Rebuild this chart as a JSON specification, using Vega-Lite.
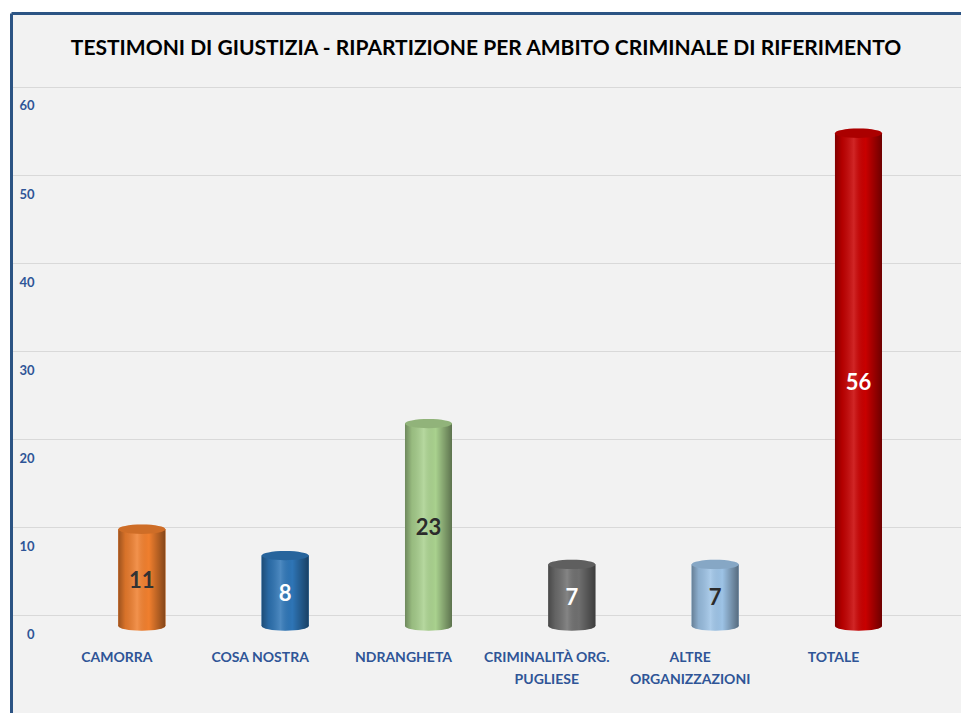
{
  "$schema": "https://vega.github.io/schema/vega-lite/v6.json",
  "width": 950,
  "height": 700,
  "autosize": {"type": "none"},
  "padding": {"left": 11, "top": 13, "right": 0, "bottom": 0},
  "background": "#ffffff",
  "config": {"view": {"fill": "#f2f2f2", "stroke": null}, "font": "Lato"},
  "title": {
    "text": "TESTIMONI DI GIUSTIZIA - RIPARTIZIONE PER AMBITO CRIMINALE DI RIFERIMENTO",
    "font": "Lato",
    "fontSize": 21,
    "fontWeight": "bold",
    "color": "#000000",
    "anchor": "middle",
    "frame": "group",
    "offset": -63,
    "baseline": "alphabetic"
  },
  "data": {
    "values": [
      {"category": "CAMORRA", "value": 11},
      {"category": "COSA NOSTRA", "value": 8},
      {"category": "NDRANGHETA", "value": 23},
      {"category": "CRIMINALITÀ ORG. PUGLIESE", "value": 7},
      {"category": "ALTRE ORGANIZZAZIONI", "value": 7},
      {"category": "TOTALE", "value": 56}
    ]
  },
  "resolve": {"scale": {"y": "independent", "color": "independent"}, "axis": {"x": "independent"}},
  "layer": [
    {
      "encoding": {
        "x": {
          "field": "category", "type": "nominal", "sort": null,
          "scale": {"paddingInner": 0.672, "paddingOuter": 0.65, "align": 0.576},
          "axis": {
            "orient": "bottom", "title": null, "domain": false, "ticks": false, "grid": false,
            "labelAngle": 0, "labelPadding": -63, "labelOffset": -25,
            "labelFont": "Lato", "labelFontSize": 14, "labelFontWeight": "bold",
            "labelColor": "#2f5597", "labelLineHeight": 22,
            "labelExpr": "datum.value == 'CRIMINALITÀ ORG. PUGLIESE' ? ['CRIMINALITÀ ORG.', 'PUGLIESE'] : datum.value == 'ALTRE ORGANIZZAZIONI' ? ['ALTRE', 'ORGANIZZAZIONI'] : datum.label"
          }
        },
        "y": {
          "field": "value", "type": "quantitative",
          "scale": {"domain": [-11.136, 68.409], "nice": false, "zero": false},
          "axis": {
            "title": null, "values": [0, 10, 20, 30, 40, 50, 60], "grid": true, "gridColor": "#d9d9d9",
            "ticks": false, "domain": true, "domainColor": "#2c5484", "domainWidth": 3,
            "labelPadding": -23, "labelOffset": 19, "labelFont": "Lato", "labelFontSize": 13,
            "labelFontWeight": "bold", "labelColor": "#2f5597"
          }
        },
        "color": {
          "field": "category", "type": "nominal", "sort": null, "legend": null,
          "scale": {
            "domain": ["CAMORRA", "COSA NOSTRA", "NDRANGHETA", "CRIMINALITÀ ORG. PUGLIESE", "ALTRE ORGANIZZAZIONI", "TOTALE"],
            "range": ["#f07f2e", "#2e75b6", "#a9d18e", "#6f6f6f", "#9dc3e6", "#c80000"]
          }
        }
      },
      "layer": [
        {
          "mark": {"type": "bar", "yOffset": 11}
        },
        {
          "mark": {"type": "point", "shape": "M-1,0A1,0.2,0,1,1,1,0A1,0.2,0,1,1,-1,0Z", "size": 2209, "filled": true, "opacity": 1, "strokeWidth": 0, "yOffset": 11},
          "encoding": {"y": {"datum": 0, "type": "quantitative"}}
        },
        {
          "mark": {"type": "point", "shape": "M-1,0A1,0.2,0,1,1,1,0A1,0.2,0,1,1,-1,0Z", "size": 2209, "filled": true, "opacity": 1, "strokeWidth": 0, "yOffset": 11},
          "encoding": {
            "y": {"datum": 0, "type": "quantitative"},
            "color": {"value": {"gradient": "linear", "x1": 0, "x2": 1, "y1": 0, "y2": 0, "stops": [
              {"offset": 0, "color": "rgba(0,0,0,0.35)"},
              {"offset": 0.15, "color": "rgba(0,0,0,0.1)"},
              {"offset": 0.4, "color": "rgba(255,255,255,0.15)"},
              {"offset": 0.65, "color": "rgba(0,0,0,0)"},
              {"offset": 1, "color": "rgba(0,0,0,0.45)"}
            ]}}
          }
        },
        {
          "mark": {"type": "bar", "yOffset": 11}
        },
        {
          "mark": {"type": "bar", "yOffset": 11},
          "encoding": {
            "color": {"value": {"gradient": "linear", "x1": 0, "x2": 1, "y1": 0, "y2": 0, "stops": [
              {"offset": 0, "color": "rgba(0,0,0,0.35)"},
              {"offset": 0.15, "color": "rgba(0,0,0,0.1)"},
              {"offset": 0.4, "color": "rgba(255,255,255,0.15)"},
              {"offset": 0.65, "color": "rgba(0,0,0,0)"},
              {"offset": 1, "color": "rgba(0,0,0,0.45)"}
            ]}}
          }
        },
        {
          "mark": {"type": "point", "shape": "M-1,0A1,0.2,0,1,1,1,0A1,0.2,0,1,1,-1,0Z", "size": 2209, "filled": true, "opacity": 1, "strokeWidth": 0, "yOffset": 11}
        },
        {
          "mark": {"type": "point", "shape": "M-1,0A1,0.2,0,1,1,1,0A1,0.2,0,1,1,-1,0Z", "size": 2209, "filled": true, "opacity": 1, "strokeWidth": 0, "yOffset": 11},
          "encoding": {"color": {"value": "rgba(0,0,0,0.14)"}}
        }
      ]
    },
    {
      "mark": {"type": "text", "font": "Lato", "fontSize": 22, "fontWeight": "bold", "baseline": "middle", "align": "center", "yOffset": 14},
      "encoding": {
        "x": {
          "field": "category", "type": "nominal", "sort": null,
          "axis": {"orient": "top", "title": null, "labels": false, "ticks": false, "grid": false, "domain": true, "domainColor": "#2c5484", "domainWidth": 3}
        },
        "y": {
          "field": "value", "type": "quantitative",
          "scale": {"domain": [-22.273, 136.818], "nice": false, "zero": false},
          "axis": null
        },
        "text": {"field": "value", "type": "quantitative"},
        "color": {
          "field": "category", "type": "nominal", "sort": null, "legend": null,
          "scale": {
            "domain": ["CAMORRA", "COSA NOSTRA", "NDRANGHETA", "CRIMINALITÀ ORG. PUGLIESE", "ALTRE ORGANIZZAZIONI", "TOTALE"],
            "range": ["#333333", "#ffffff", "#2b2b2b", "#ffffff", "#2b2b2b", "#ffffff"]
          }
        }
      }
    }
  ]
}
